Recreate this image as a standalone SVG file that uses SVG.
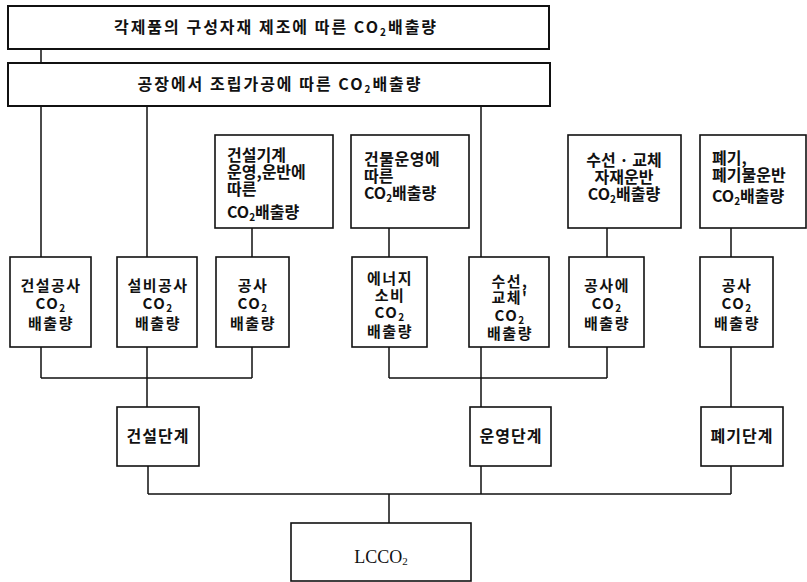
<svg xmlns="http://www.w3.org/2000/svg" width="807" height="582" viewBox="0 0 807 582">
<style>
.box{fill:#fff;stroke:#111;stroke-width:1.6}
.big{stroke-width:2}
.k{font-family:"Noto Sans CJK KR","Noto Sans",sans-serif;font-size:16px;font-weight:700;fill:#111}
.m{font-size:15px;letter-spacing:1.5px}
.c{text-anchor:middle}
.s{font-size:10px}
.lc{font-family:"Liberation Serif",serif;font-size:18px;fill:#111;text-anchor:middle}
#connectors path{fill:none;stroke:#111;stroke-width:1.5}
</style>
<rect width="807" height="582" fill="#fff"/>
<g id="connectors">
<path d="M41 49V63"/>
<path d="M41 106V257M147 106V257M481 106V257"/>
<path d="M252 228V257M389 228V257M607 228V257M731 228V257"/>
<path d="M41 347V378M147 347V407M252 347V378M41 378H252"/>
<path d="M389 347V378M481 347V407M607 347V378M389 378H607"/>
<path d="M731 347V407"/>
<path d="M148 466V494M481 466V494M731 466V494M148 494H731M389 494V523"/>
</g>
<g id="n-manufacture">
<rect class="box big" x="8" y="6" width="541" height="43"/>
<text class="k c" x="276" y="33" letter-spacing="2">각제품의 구성자재 제조에 따른 CO<tspan class="s" dy="3">2</tspan><tspan dy="-3">배출량</tspan></text>
</g>
<g id="n-factory">
<rect class="box big" x="8" y="63" width="542" height="43"/>
<text class="k c" x="280" y="90" letter-spacing="2">공장에서 조립가공에 따른 CO<tspan class="s" dy="3">2</tspan><tspan dy="-3">배출량</tspan></text>
</g>
<g id="n-machine">
<rect class="box" x="215" y="135" width="118" height="93"/>
<text class="k" x="227" y="161">건설기계<tspan x="227" dy="17">운영,운반에</tspan><tspan x="227" dy="17">따른</tspan><tspan x="227" dy="23">CO</tspan><tspan class="s" dy="3">2</tspan><tspan dy="-3">배출량</tspan></text>
</g>
<g id="n-operation">
<rect class="box" x="351" y="135" width="118" height="93"/>
<text class="k" x="364" y="165"><tspan letter-spacing="0.5">건물운영에</tspan><tspan x="364" dy="17">따른</tspan><tspan x="364" dy="17">CO</tspan><tspan class="s" dy="3">2</tspan><tspan dy="-3">배출량</tspan></text>
</g>
<g id="n-repair-transport">
<rect class="box" x="568" y="135" width="113" height="93"/>
<text class="k c" x="624" y="166">수선 · 교체<tspan x="624" dy="17">자재운반</tspan><tspan x="624" dy="17">CO<tspan class="s" dy="3">2</tspan><tspan dy="-3">배출량</tspan></tspan></text>
</g>
<g id="n-waste-transport">
<rect class="box" x="700" y="135" width="106" height="93"/>
<text class="k" x="712" y="164">폐기,<tspan x="712" dy="17">폐기물운반</tspan><tspan x="712" dy="21">CO</tspan><tspan class="s" dy="3">2</tspan><tspan dy="-3">배출량</tspan></text>
</g>
<g id="n-building-work">
<rect class="box" x="10" y="257" width="81" height="90"/>
<text class="k m c" x="51" y="291">건설공사<tspan x="51" dy="18">CO<tspan class="s" dy="3">2</tspan></tspan><tspan x="51" dy="17">배출량</tspan></text>
</g>
<g id="n-equipment-work">
<rect class="box" x="117" y="257" width="80" height="90"/>
<text class="k m c" x="158" y="291">설비공사<tspan x="158" dy="18">CO<tspan class="s" dy="3">2</tspan></tspan><tspan x="158" dy="17">배출량</tspan></text>
</g>
<g id="n-construction-work">
<rect class="box" x="216" y="257" width="73" height="90"/>
<text class="k m c" x="253" y="291">공사<tspan x="253" dy="18">CO<tspan class="s" dy="3">2</tspan></tspan><tspan x="253" dy="17">배출량</tspan></text>
</g>
<g id="n-energy">
<rect class="box" x="352" y="257" width="75" height="90"/>
<text class="k m c" x="390" y="284">에너지<tspan x="390" dy="17">소비</tspan><tspan x="390" dy="17">CO<tspan class="s" dy="3">2</tspan></tspan><tspan x="390" dy="16">배출량</tspan></text>
</g>
<g id="n-repair">
<rect class="box" x="469" y="257" width="80" height="90"/>
<text class="k m c" x="510" y="287">수선,<tspan x="510" dy="16">교체'</tspan><tspan x="510" dy="18">CO<tspan class="s" dy="3">2</tspan></tspan><tspan x="510" dy="15">배출량</tspan></text>
</g>
<g id="n-repair-work">
<rect class="box" x="569" y="257" width="75" height="90"/>
<text class="k m c" x="607" y="291">공사에<tspan x="607" dy="18">CO<tspan class="s" dy="3">2</tspan></tspan><tspan x="607" dy="17">배출량</tspan></text>
</g>
<g id="n-demolition-work">
<rect class="box" x="700" y="257" width="73" height="90"/>
<text class="k m c" x="737" y="291">공사<tspan x="737" dy="18">CO<tspan class="s" dy="3">2</tspan></tspan><tspan x="737" dy="17">배출량</tspan></text>
</g>
<g id="n-construction-stage">
<rect class="box" x="117" y="407" width="82" height="59"/>
<text class="k c" x="158" y="442" letter-spacing="1">건설단계</text>
</g>
<g id="n-operation-stage">
<rect class="box" x="470" y="407" width="81" height="59"/>
<text class="k c" x="511" y="442" letter-spacing="1">운영단계</text>
</g>
<g id="n-disposal-stage">
<rect class="box" x="701" y="407" width="82" height="59"/>
<text class="k c" x="742" y="442" letter-spacing="1">폐기단계</text>
</g>
<g id="n-lcco2">
<rect class="box" x="291" y="523" width="180" height="58"/>
<text class="lc" x="381" y="563">LCCO<tspan font-size="11" dy="2">2</tspan></text>
</g>
</svg>
